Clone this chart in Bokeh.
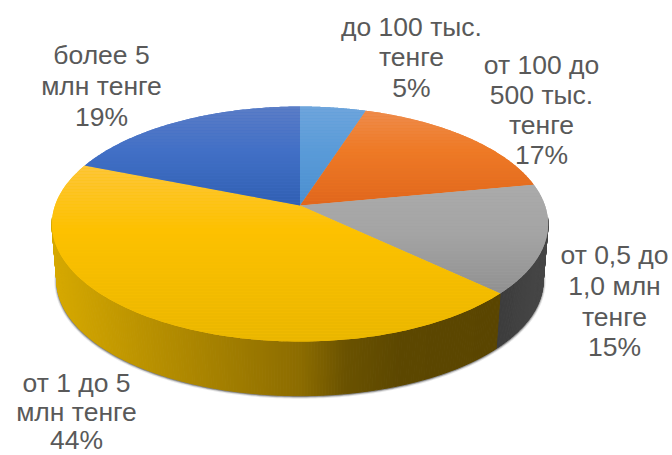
import numpy as np
from bokeh.embed import file_html
from bokeh.models import Range1d
from bokeh.plotting import figure
from bokeh.resources import INLINE
from bokeh.core.properties import value

# Data
categories = ["до 100 тыс. тенге", "от 100 до 500 тыс. тенге", "от 0,5 до 1,0 млн тенге",
              "от 1 до 5 млн тенге", "более 5 млн тенге"]
shares = [5, 17, 15, 44, 19]
label_lines = [["до 100 тыс.", "тенге", "5%"],
               ["от 100 до", "500 тыс.", "тенге", "17%"],
               ["от 0,5 до", "1,0 млн", "тенге", "15%"],
               ["от 1 до 5", "млн тенге", "44%"],
               ["более 5", "млн тенге", "19%"]]
label_x = [411, 541, 614, 76, 101]
label_y = [[26, 56, 87], [64, 94, 124, 154], [254, 285, 316, 346], [382, 411, 439], [54, 85, 116]]

# Vertical colour stops of each top face (screen y, colour)
top_stops = [
    [(106, "#6fa5dc"), (150, "#5a9bd8"), (205, "#4a8ecf")],
    [(108, "#ee8d50"), (150, "#ee7a26"), (205, "#e0661c")],
    [(180, "#ababab"), (230, "#a5a5a5"), (295, "#8f8f8f")],
    [(165, "#fdc63c"), (230, "#fdc100"), (342, "#e9b600")],
    [(106, "#5c7dc6"), (150, "#4270c6"), (205, "#2f5fb2")],
]
# Side colours against screen x
side_stops = [
    [(0, "#5b9bd5"), (700, "#5b9bd5")],
    [(0, "#c55a11"), (700, "#c55a11")],
    [(495, "#3b3b3b"), (550, "#484848")],
    [(52, "#d6a900"), (150, "#b89000"), (300, "#8c6c00"), (345, "#6a5200"), (400, "#5c4700"), (500, "#5a4500")],
    [(0, "#2f5597"), (700, "#2f5597")],
]

CX, CY, A, B, K = 299.5, 205.0, 245.0, 114.6, 0.1574
SCALE, DY = 0.98, 61.0


def rim(theta):
    u, v = np.sin(theta), np.cos(theta)
    d = 1 + K * v
    return CX + A * u / d, CY - B * v / d


def lower(x, y):
    return CX + SCALE * (x - CX), y * SCALE + DY


def rgb(c):
    return np.array([int(c[i:i + 2], 16) for i in (1, 3, 5)], float)


def ramp(stops, t):
    ts = [s[0] for s in stops]
    cs = np.array([rgb(s[1]) for s in stops])
    return "#%02x%02x%02x" % tuple(int(round(np.interp(t, ts, cs[:, i]))) for i in range(3))


def clip(poly, y0, y1):
    def half(pts, keep, lim):
        out = []
        for i in range(len(pts)):
            a, b = pts[i], pts[(i + 1) % len(pts)]
            ka, kb = keep(a[1]), keep(b[1])
            if ka:
                out.append(a)
            if ka != kb:
                s = (lim - a[1]) / (b[1] - a[1])
                out.append((a[0] + s * (b[0] - a[0]), lim))
        return out
    r = half(poly, lambda y: y >= y0, y0)
    return half(r, lambda y: y <= y1, y1) if r else r


p = figure(width=672, height=455, output_backend="svg", toolbar_location=None,
           x_range=Range1d(0, 672), y_range=Range1d(455, 0), min_border=0,
           outline_line_color=None, background_fill_color="white")
p.axis.visible = False
p.grid.visible = False

edges = np.radians(np.cumsum([0] + shares) * 3.6)

# Soft shadow under the side wall
th = np.linspace(np.radians(96), np.radians(264), 200)
sx, sy = lower(*rim(th))
for w, al in ((5, 0.12), (3, 0.25), (1.5, 0.4)):
    p.line(sx, sy + 0.5, line_color="#333333", line_width=w, line_alpha=al)

# Side wall
xs, ys, cols = [], [], []
for i in range(len(shares)):
    lo, hi = max(edges[i], np.radians(96)), min(edges[i + 1], np.radians(264))
    if hi <= lo:
        continue
    ts = np.linspace(lo, hi, max(2, int((hi - lo) / np.radians(0.6))))
    for a, b in zip(ts[:-1], ts[1:]):
        x0, y0 = rim(a)
        x1, y1 = rim(b)
        xb0, yb0 = lower(x0, y0)
        xb1, yb1 = lower(x1, y1)
        xs.append([x0, x1, xb1, xb0])
        ys.append([y0, y1, yb1, yb0])
        cols.append(ramp(side_stops[i], (x0 + x1) / 2))
p.patches(xs, ys, fill_color=cols, line_color=cols, line_width=1.0)

# Solid base of every top face, so no seam shows between the bands
bx, by, bc = [], [], []
for i in range(len(shares)):
    rx, ry = rim(np.linspace(edges[i], edges[i + 1], 120))
    bx.append([CX] + list(rx))
    by.append([CY] + list(ry))
    bc.append(top_stops[i][1][1])
p.patches(bx, by, fill_color=bc, line_color=None)

# Top faces cut in thin horizontal bands for the vertical shading
xs, ys, cols = [], [], []
for i in range(len(shares)):
    poly = list(zip(bx[i], by[i]))
    ymin, ymax = min(q[1] for q in poly), max(q[1] for q in poly)
    bands = np.arange(ymin, ymax + 3, 3.0)
    for y0, y1 in zip(bands[:-1], bands[1:]):
        c = clip(poly, y0, y1)
        if len(c) >= 3:
            xs.append([q[0] for q in c])
            ys.append([q[1] for q in c])
            cols.append(ramp(top_stops[i], (y0 + y1) / 2))
p.patches(xs, ys, fill_color=cols, line_color=None)

# Labels
for lines, x, yy in zip(label_lines, label_x, label_y):
    p.text([x] * len(lines), yy, text=lines, text_font=value("Liberation Sans"),
           text_font_size="26.5px", text_color="#595959", text_align="center",
           text_baseline="middle")

open("out.html", "w").write(file_html(p, INLINE))
